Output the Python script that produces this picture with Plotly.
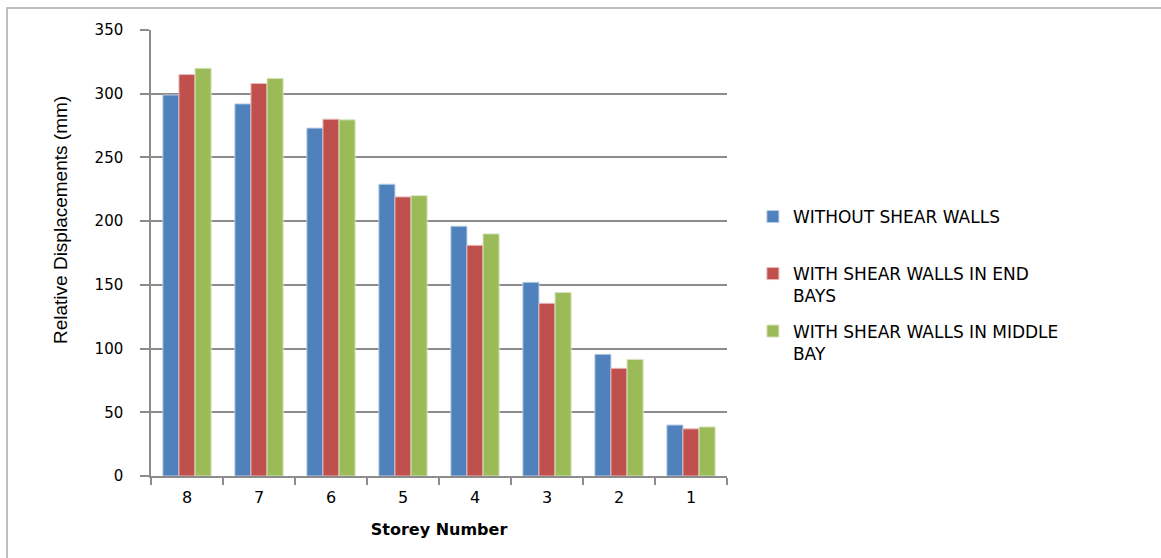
import plotly.graph_objects as go

storeys = ["8", "7", "6", "5", "4", "3", "2", "1"]
without_walls = [299, 292, 273, 229, 196, 152, 95.5, 40]
end_bays = [315, 308, 280, 219, 181, 135.5, 84.5, 37]
middle_bay = [320, 312, 279.5, 220, 190, 144, 91.5, 38.5]
y_ticks = [0, 50, 100, 150, 200, 250, 300, 350]

series = [
    ("WITHOUT SHEAR WALLS", without_walls, "#4F81BD", "#B9CDE5"),
    ("WITH SHEAR WALLS IN END<br>BAYS", end_bays, "#C0504D", "#E6B9B8"),
    ("WITH SHEAR WALLS IN MIDDLE<br>BAY", middle_bay, "#9BBB59", "#D7E4BD"),
]
legend_ids = ["legend", "legend2", "legend3"]
legend_mid_px = [217, 285, 342.5]

fig = go.Figure()
for (name, vals, col, edge), lid in zip(series, legend_ids):
    fig.add_trace(go.Bar(
        x=storeys, y=vals, name=name, legend=lid, showlegend=True,
        marker=dict(color=col, line=dict(color=edge, width=1)),
    ))

def legend_cfg(mid_px):
    return dict(
        x=1.045, xanchor="left", y=(476 - mid_px) / 446, yanchor="middle",
        font=dict(family="DejaVu Sans", size=17, color="#000000"),
        itemwidth=30, valign="top", bgcolor="rgba(0,0,0,0)", visible=True,
    )

fig.update_layout(
    width=1161, height=558,
    margin=dict(l=151, r=434, t=30, b=82),
    paper_bgcolor="white", plot_bgcolor="white",
    showlegend=True,
    barmode="group", bargap=0.33, bargroupgap=0,
    font=dict(family="DejaVu Sans", color="#000000"),
    legend=legend_cfg(legend_mid_px[0]),
    legend2=legend_cfg(legend_mid_px[1]),
    legend3=legend_cfg(legend_mid_px[2]),
    shapes=[dict(
        type="rect", xref="paper", yref="paper",
        x0=(7 - 151) / 576, x1=(1175 - 151) / 576,
        y0=(476 - 575) / 446, y1=(476 - 8) / 446,
        line=dict(color="#ABABAB", width=1.5), fillcolor="rgba(0,0,0,0)", layer="below",
    )],
    annotations=[dict(
        text="Relative Displacements (mm)", textangle=-90,
        xref="paper", yref="paper", x=(60 - 151) / 576, y=(476 - 220) / 446,
        xanchor="center", yanchor="middle", showarrow=False,
        font=dict(family="Liberation Sans", size=19, color="#000000"),
    )],
)

fig.update_xaxes(
    type="category", showline=True, linecolor="#8C8C8C", linewidth=1.5,
    ticks="outside", tickson="boundaries", ticklen=7, tickcolor="#8C8C8C", tickwidth=1.5,
    tickfont=dict(family="DejaVu Sans", size=16), ticklabelstandoff=6,
    title=dict(text="<b>Storey Number</b>", font=dict(family="DejaVu Sans", size=16), standoff=18),
    showgrid=False,
)
fig.update_yaxes(
    range=[0, 350], tickvals=y_ticks, showline=True, linecolor="#8C8C8C", linewidth=1.5,
    ticks="outside", ticklen=9, tickcolor="#8C8C8C", tickwidth=1.5,
    tickfont=dict(family="DejaVu Sans", size=15), ticklabelstandoff=14,
    showgrid=True, gridcolor="#8C8C8C", gridwidth=1.5, zeroline=False,
)

fig.write_html("out.html")
